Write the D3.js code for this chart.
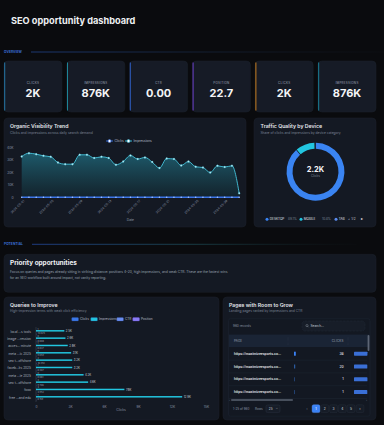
<!DOCTYPE html>
<html>
<head>
<meta charset="utf-8">
<script src="https://cdn.jsdelivr.net/npm/d3@7"></script>
<style>
  html, body { margin: 0; padding: 0; background: #0a0b0e; overflow: hidden; }
  svg { display: block; font-family: Inter, "Noto Sans", sans-serif; }
</style>
</head>
<body>
<script>
var width = 384, height = 425;

// kpi cards
var kpiLabels = ['CLICKS', 'IMPRESSIONS', 'CTR', 'POSITION', 'CLICKS', 'IMPRESSIONS'];
var kpiValues = ['2K', '876K', '0.00', '22.7', '2K', '876K'];
var kpiAccents = ['#2677a6', '#1d8597', '#2f5fc4', '#6a3fc9', '#c47b1e', '#197f97'];

// daily trend (31 days from 2024-05-01)
var trendStart = new Date(Date.UTC(2024, 4, 1));
var impressions = [32600, 35300, 34500, 33200, 32400, 27800, 26500, 26500, 34000, 34000,
                   31400, 32400, 31400, 26000, 28600, 33500, 30600, 31900, 28200, 23400,
                   31000, 30600, 25500, 28600, 24400, 23800, 19800, 25200, 24200, 25200, 3200];
var clicks = [70, 82, 75, 68, 71, 60, 55, 58, 77, 74, 66, 69, 63, 52, 57, 72,
              64, 68, 59, 48, 66, 63, 55, 60, 51, 50, 42, 54, 52, 55, 8];
var trendTicks = [0, 10000, 20000, 30000, 40000];

// devices
var devices = ['DESKTOP', 'MOBILE', 'TABLET'];
var deviceShare = [89.1, 10.8, 0.1];
var deviceColors = ['#3a84f2', '#22c6e0', '#5b8cf0'];

// queries
var queryLabels = ['local ...s tools', 'image ...ression', 'acces... minute', 'meta ...ic 2025', 'seo t...offshore',
                   'faceb...ks 2025', 'meta ...ie 2025', 'seo t...offshore', 'fooo', 'free ...and edu'];
var queryClicks = [1, 0, 1, 0, 2, 1, 0, 3, 4, 1];
var queryImpr = [2500, 2600, 2800, 3100, 3200, 3200, 4200, 4600, 7800, 12900];
var queryCtr = [0.04, 0, 0.036, 0, 0.062, 0.031, 0, 0.065, 0.051, 0.008];
var queryPos = [14.025, 8.608, 6.847, 9.059, 16.353, 8.307, 8.061, 9.706, 4.952, 8.159];
var querySeries = ['Clicks', 'Impressions', 'CTR', 'Position'];
var queryColors = ['#3b78e8', '#22c6e0', '#6b8ef2', '#8a7cf4'];
var queryTicks = [0, 3000, 6000, 9000, 12000, 15000];

// pages
var pageUrls = ['https://maximizeesports.co...', 'https://maximizeesports.co...', 'https://maximizeesports.co...', 'https://maximizeesports.co...'];
var pageClicks = [38, 20, 1, 1];
var pageScore = [0.96, 0.95, 0.96, 0.95];
var pageButtons = ['1', '2', '3', '4', '5'];

var svg = d3.select('body').append('svg')
    .attr('width', width)
    .attr('height', height);
var defs = svg.append('defs');

function panel(x, y, w, h, fill) {
    return svg.append('rect')
        .attr('x', x).attr('y', y).attr('width', w).attr('height', h)
        .attr('rx', 4)
        .attr('fill', fill || '#141923')
        .attr('stroke', '#1c222d').attr('stroke-width', 0.5);
}
function label(g, x, y, s, size, fill, weight, anchor) {
    return g.append('text')
        .attr('x', x).attr('y', y)
        .attr('font-size', size)
        .attr('fill', fill)
        .attr('font-weight', weight || 400)
        .attr('text-anchor', anchor || 'start')
        .text(s);
}
function sectionLine(name, y, x1, x2, stops) {
    var id = 'sec' + name;
    var grad = defs.append('linearGradient').attr('id', id)
        .attr('gradientUnits', 'userSpaceOnUse')
        .attr('x1', x1).attr('x2', x2).attr('y1', 0).attr('y2', 0);
    stops.forEach(function (s, i) {
        grad.append('stop').attr('offset', i / (stops.length - 1)).attr('stop-color', s[0]).attr('stop-opacity', s[1]);
    });
    label(svg, 4, y + 1.1, name, 3.2, '#3a6fd6', 700).attr('letter-spacing', 0.1);
    svg.append('line').attr('x1', x1).attr('x2', x2).attr('y1', y).attr('y2', y)
        .attr('stroke', 'url(#' + id + ')').attr('stroke-width', 0.6);
}

// header
label(svg, 11, 23.5, 'SEO opportunity dashboard', 9.2, '#eef0f3', 700);
sectionLine('OVERVIEW', 52, 31, 384, [['#2b5fc9', 0.9], ['#23406e', 0.6], ['#1a2230', 0.2]]);

// kpi cards
var kx = d3.scaleBand().domain(d3.range(kpiLabels.length)).range([4, 376]).paddingInner(0.076);
kpiLabels.forEach(function (k, i) {
    var x = kx(i), w = kx.bandwidth();
    panel(x, 61, w, 51, '#161b26');
    svg.append('rect').attr('x', x + 0.2).attr('y', 62.5).attr('width', 1).attr('height', 48)
        .attr('fill', kpiAccents[i]);
    label(svg, x + w / 2, 83.5, k, 3, '#8790a0', 500, 'middle').attr('letter-spacing', 0.25);
    label(svg, x + w / 2, 97, kpiValues[i], 11, '#f4f5f7', 700, 'middle');
});

// trend panel
panel(4, 118, 242, 109);
label(svg, 10, 127.8, 'Organic Visibility Trend', 5.2, '#e6e8ec', 600);
label(svg, 10, 133.5, 'Clicks and impressions across daily search demand', 3.4, '#7a8393');

var days = d3.utcDay.range(trendStart, d3.utcDay.offset(trendStart, impressions.length));
var fmt = d3.utcFormat('%Y-%m-%d');
var x = d3.scalePoint().domain(d3.range(days.length)).range([21.7, 239.2]);
var y = d3.scaleLinear().domain([0, 40000]).range([197.3, 147.3]);

var grad = defs.append('linearGradient').attr('id', 'areaFill')
    .attr('gradientUnits', 'userSpaceOnUse').attr('x1', 0).attr('x2', 0).attr('y1', 150).attr('y2', 197);
grad.append('stop').attr('offset', 0).attr('stop-color', '#1f6274').attr('stop-opacity', 0.95);
grad.append('stop').attr('offset', 1).attr('stop-color', '#13262f').attr('stop-opacity', 0.8);

var yAxis = svg.append('g')
    .attr('transform', 'translate(16.5,0)')
    .call(d3.axisLeft(y).tickValues(trendTicks).tickSize(0).tickFormat(function (d) { return d === 0 ? '0' : d / 1000 + 'K'; }));
yAxis.select('.domain').remove();
yAxis.selectAll('text').attr('font-size', 3.3).attr('fill', '#8a93a3').attr('font-family', 'Inter');

svg.append('path')
    .datum(impressions)
    .attr('d', d3.area().x(function (d, i) { return x(i); }).y0(y(0)).y1(function (d) { return y(d); }).curve(d3.curveMonotoneX))
    .attr('fill', 'url(#areaFill)');
svg.append('path')
    .datum(impressions)
    .attr('d', d3.line().x(function (d, i) { return x(i); }).y(function (d) { return y(d); }).curve(d3.curveMonotoneX))
    .attr('fill', 'none').attr('stroke', '#45c6df').attr('stroke-width', 0.9);
svg.append('g').selectAll('circle')
    .data(impressions).enter().append('circle')
    .attr('cx', function (d, i) { return x(i); })
    .attr('cy', function (d) { return y(d); })
    .attr('r', 0.95)
    .attr('fill', '#c4f3fb').attr('stroke', '#2aa7c2').attr('stroke-width', 0.3);

svg.append('path')
    .datum(clicks)
    .attr('d', d3.line().x(function (d, i) { return x(i); }).y(function (d) { return y(d); }))
    .attr('fill', 'none').attr('stroke', '#3b74e6').attr('stroke-width', 1.4);
svg.append('g').selectAll('circle')
    .data(clicks).enter().append('circle')
    .attr('cx', function (d, i) { return x(i); })
    .attr('cy', function (d) { return y(d); })
    .attr('r', 0.75)
    .attr('fill', '#a9c8ff');

var xAxis = svg.append('g')
    .attr('transform', 'translate(0,198.5)')
    .call(d3.axisBottom(x).tickValues(d3.range(0, days.length, 4)).tickSize(0).tickFormat(function (i) { return fmt(days[i]); }));
xAxis.select('.domain').remove();
xAxis.selectAll('text')
    .attr('font-size', 3.2).attr('fill', '#8a93a3').attr('font-family', 'Inter')
    .attr('text-anchor', 'end').attr('dy', '0.2em')
    .attr('transform', 'rotate(-45)');
label(svg, 130.4, 221.3, 'Date', 3.3, '#8a93a3', 400, 'middle');

// trend legend
[['Clicks', '#3b74e6', 106], ['Impressions', '#3fc3dd', 125]].forEach(function (l) {
    svg.append('line').attr('x1', l[2]).attr('x2', l[2] + 7).attr('y1', 141).attr('y2', 141)
        .attr('stroke', l[1]).attr('stroke-width', 0.9);
    svg.append('circle').attr('cx', l[2] + 3.5).attr('cy', 141).attr('r', 1.5)
        .attr('fill', '#ffffff').attr('stroke', l[1]).attr('stroke-width', 0.6);
    label(svg, l[2] + 8.5, 142.2, l[0], 3.2, '#b7bdc8');
});

// device panel
panel(254, 118, 122, 109);
label(svg, 260.5, 127.8, 'Traffic Quality by Device', 5.2, '#e6e8ec', 600);
label(svg, 260.5, 133.5, 'Share of clicks and impressions by device category', 3.3, '#7a8393');

var pie = d3.pie().sort(null).padAngle(0.02);
var arc = d3.arc().innerRadius(23).outerRadius(29);
svg.append('g').attr('transform', 'translate(315.5,171.7)')
    .selectAll('path')
    .data(pie(deviceShare)).enter().append('path')
    .attr('d', arc)
    .attr('fill', function (d, i) { return deviceColors[i]; });
label(svg, 315.5, 171.8, '2.2K', 7.5, '#f4f5f7', 700, 'middle');
label(svg, 315.5, 177.3, 'Clicks', 3.1, '#7f8898', 400, 'middle');

var lg = svg.append('g').attr('font-family', 'Inter');
var legX = [267, 301, 336];
devices.forEach(function (dname, i) {
    lg.append('circle').attr('cx', legX[i]).attr('cy', 219.3).attr('r', 1.5).attr('fill', deviceColors[i]);
    if (i < 2) {
        label(lg, legX[i] + 2.8, 220.4, dname, 3.1, '#c9ced7', 500);
        label(lg, legX[i] + 21, 220.4, deviceShare[i] + '%', 3.1, '#7c8596');
    } else {
        label(lg, legX[i] + 2.8, 220.4, 'TAB', 3.1, '#c9ced7', 500);
    }
});
label(lg, 348.5, 220.4, '\u25C2', 3.3, '#8a93a3', 400, 'middle');
label(lg, 353.5, 220.4, '1/2', 3.1, '#c9ced7', 400, 'middle');
label(lg, 362, 220.4, '\u25B8', 3.6, '#e6e8ec', 400, 'middle');

// potential section
sectionLine('POTENTIAL', 244.3, 32, 357, [['#2d5fd6', 0.95], ['#2a7d8c', 0.7], ['#1a2a30', 0.1]]);
panel(4, 254.3, 372, 38, '#141923');
label(svg, 10, 265.2, 'Priority opportunities', 6.4, '#f0f2f5', 700);
label(svg, 10, 272.8, 'Focus on queries and pages already sitting in striking distance: positions 4\u201320, high impressions, and weak CTR. These are the fastest wins', 3.3, '#98a1b0');
label(svg, 10, 278.8, 'for an SEO workflow built around impact, not vanity reporting.', 3.3, '#98a1b0');

// queries panel
panel(4, 297, 215, 123);
label(svg, 10, 306.5, 'Queries to Improve', 5.2, '#e6e8ec', 600);
label(svg, 10, 312.3, 'High-impression terms with weak click efficiency', 3.3, '#7a8393');

var legQX = [71.7, 90.7, 116.7, 132.7];
querySeries.forEach(function (s, i) {
    svg.append('rect').attr('x', legQX[i]).attr('y', 317.6).attr('width', 6.8).attr('height', 3.4).attr('rx', 0.8)
        .attr('fill', queryColors[i]).attr('stroke', i === 3 ? '#6a4fd8' : '#2d4d9a').attr('stroke-width', 0.3);
    label(svg, legQX[i] + 8.3, 320.4, s, 3.1, '#b7bdc8');
});

var qy = d3.scaleBand().domain(d3.range(queryLabels.length)).range([328, 401.3]);
var qsub = d3.scaleBand().domain(querySeries).range([0.4, qy.bandwidth() - 0.4]).paddingInner(0.12);
var qx = d3.scaleLinear().domain([0, 15000]).range([36, 206]);

svg.append('line').attr('x1', qx(0)).attr('x2', qx(0)).attr('y1', 327).attr('y2', 402)
    .attr('stroke', '#5a6272').attr('stroke-width', 0.35);
var qAxis = svg.append('g')
    .attr('transform', 'translate(0,402.5)')
    .call(d3.axisBottom(qx).tickValues(queryTicks).tickSize(0).tickFormat(function (d) { return d === 0 ? '0' : d / 1000 + 'K'; }));
qAxis.select('.domain').remove();
qAxis.selectAll('text').attr('font-size', 3.2).attr('fill', '#8a93a3').attr('font-family', 'Inter');
label(svg, 121, 411.3, 'Clicks', 3.3, '#8a93a3', 400, 'middle');

var qLab = svg.append('g').attr('transform', 'translate(34,0)')
    .call(d3.axisLeft(qy).tickSize(0).tickFormat(function (i) { return queryLabels[i]; }));
qLab.select('.domain').remove();
qLab.selectAll('text').attr('font-size', 3.2).attr('fill', '#aab2bf').attr('font-family', 'Inter');

// value labels: clicks above, impressions at bar end, position below
var qSeries = [queryClicks, queryImpr, queryCtr, queryPos];
var qFmt = [function (v) { return v; }, function (v) { return (v / 1000).toFixed(1) + 'K'; }, null, function (v) { return v.toFixed(3); }];
var qLabOff = [1.0, 3.2, 0, 5.5];
qSeries.forEach(function (vals, si) {
    var key = querySeries[si];
    var g = svg.append('g');
    g.selectAll('rect').data(vals).enter().append('rect')
        .attr('x', qx(0))
        .attr('y', function (d, i) { return qy(i) + qsub(key); })
        .attr('width', function (d) { return qx(d) - qx(0); })
        .attr('height', qsub.bandwidth())
        .attr('fill', queryColors[si]);
    if (qFmt[si]) {
        g.selectAll('text').data(vals).enter().append('text')
            .attr('x', function (d) { return qx(d) + 1.5; })
            .attr('y', function (d, i) { return qy(i) + qLabOff[si]; })
            .attr('dy', '0.32em')
            .attr('font-size', si === 1 ? 2.8 : 2.3)
            .attr('fill', si === 1 ? '#c9d0da' : '#9aa3b1')
            .text(qFmt[si]);
    }
});

// pages panel
panel(223, 297, 153, 123);
label(svg, 229, 306.5, 'Pages with Room to Grow', 5.2, '#e6e8ec', 600);
label(svg, 229, 312.3, 'Landing pages ranked by impressions and CTR', 3.3, '#7a8393');
svg.append('rect').attr('x', 228.5).attr('y', 318.7).attr('width', 141.5).attr('height', 97.5).attr('rx', 2)
    .attr('fill', '#131822').attr('stroke', '#222938').attr('stroke-width', 0.4);
label(svg, 233, 326.8, '960 records', 3.1, '#8a93a3');
svg.append('rect').attr('x', 302).attr('y', 321).attr('width', 63).attr('height', 10).attr('rx', 3)
    .attr('fill', '#171d28').attr('stroke', '#2c3444').attr('stroke-width', 0.4).attr('stroke-dasharray', '0.8,0.6');
svg.append('circle').attr('cx', 307).attr('cy', 325.6).attr('r', 1.1).attr('fill', 'none').attr('stroke', '#b5bcc7').attr('stroke-width', 0.35);
svg.append('line').attr('x1', 307.8).attr('y1', 326.4).attr('x2', 308.7).attr('y2', 327.3).attr('stroke', '#b5bcc7').attr('stroke-width', 0.35);
label(svg, 310.5, 327.3, 'Search...', 3.2, '#c8cdd6');

svg.append('rect').attr('x', 229).attr('y', 334.6).attr('width', 140.5).attr('height', 12.4).attr('fill', '#1a2435');
label(svg, 234, 342, 'PAGE', 2.9, '#8c96a6', 500).attr('letter-spacing', 0.2);
label(svg, 343.5, 342, 'CLICKS', 2.9, '#8c96a6', 500, 'end').attr('letter-spacing', 0.2);
[288, 348].forEach(function (cx) {
    svg.append('line').attr('x1', cx).attr('x2', cx).attr('y1', 337).attr('y2', 345)
        .attr('stroke', '#3a4456').attr('stroke-width', 0.35).attr('stroke-dasharray', '0.6,0.6');
});
svg.append('rect').attr('x', 367.6).attr('y', 335).attr('width', 1.8).attr('height', 16).attr('rx', 0.9).attr('fill', '#5d6575');

var rowY = d3.scaleBand().domain(d3.range(pageUrls.length)).range([347.3, 398.5]);
var clickBar = d3.scaleLinear().domain([0, d3.max(pageClicks)]).range([0.6, 1.8]);
var scoreBar = d3.scaleLinear().domain([0, 1]).range([0, 14]);
pageUrls.forEach(function (u, i) {
    var cy = rowY(i) + rowY.bandwidth() / 2;
    label(svg, 234, cy + 1.1, u, 3.3, '#e8ebf0', 600);
    svg.append('rect').attr('x', 294).attr('y', cy - 2).attr('width', clickBar(pageClicks[i])).attr('height', 4)
        .attr('fill', i === 0 ? '#3b82f6' : '#2b5a9e');
    label(svg, 343.7, cy + 1.1, pageClicks[i], 3.3, '#e8ebf0', 500, 'end');
    svg.append('rect').attr('x', 354).attr('y', cy - 2).attr('width', scoreBar(pageScore[i])).attr('height', 4).attr('rx', 0.6)
        .attr('fill', '#3a6fd6');
    svg.append('line').attr('x1', 229).attr('x2', 367).attr('y1', rowY(i) + rowY.bandwidth()).attr('y2', rowY(i) + rowY.bandwidth())
        .attr('stroke', '#222a37').attr('stroke-width', 0.4);
});
svg.append('rect').attr('x', 231).attr('y', 399.2).attr('width', 62).attr('height', 1.5).attr('rx', 0.75).attr('fill', '#5a6170');
label(svg, 229.6, 400.7, '\u2039', 3, '#6b7383', 400, 'middle');
label(svg, 366.5, 400.7, '\u203A', 3, '#6b7383', 400, 'middle');

label(svg, 233, 409.8, '1-25 of 960', 3, '#8c96a6');
label(svg, 255, 409.8, 'Rows', 3, '#8c96a6');
svg.append('rect').attr('x', 266).attr('y', 405).attr('width', 14).attr('height', 7.6).attr('rx', 1.6)
    .attr('fill', '#171d28').attr('stroke', '#2f3746').attr('stroke-width', 0.4);
label(svg, 268.8, 409.9, '25', 3.1, '#c9ced7');
label(svg, 276.8, 409.4, '\u2304', 3.4, '#8c96a6', 400, 'middle');

var pgX = d3.scalePoint().domain(pageButtons).range([316, 351]);
label(svg, 307, 409.9, '\u2039', 3.8, '#6b7383', 400, 'middle');
pageButtons.forEach(function (p, i) {
    svg.append('rect').attr('x', pgX(p) - 3.9).attr('y', 404.8).attr('width', 7.8).attr('height', 7.8).attr('rx', 1.5)
        .attr('fill', i === 0 ? '#3b82f6' : '#161c27')
        .attr('stroke', i === 0 ? '#5a9bff' : '#2a3240').attr('stroke-width', 0.4);
    label(svg, pgX(p), 409.9, p, 3.2, i === 0 ? '#ffffff' : '#c9ced7', 500, 'middle');
});
svg.append('rect').attr('x', 356.1).attr('y', 404.8).attr('width', 7.8).attr('height', 7.8).attr('rx', 1.5)
    .attr('fill', '#161c27').attr('stroke', '#2a3240').attr('stroke-width', 0.4);
label(svg, 360, 409.9, '\u203A', 3.8, '#c9ced7', 400, 'middle');
</script>
</body>
</html>
